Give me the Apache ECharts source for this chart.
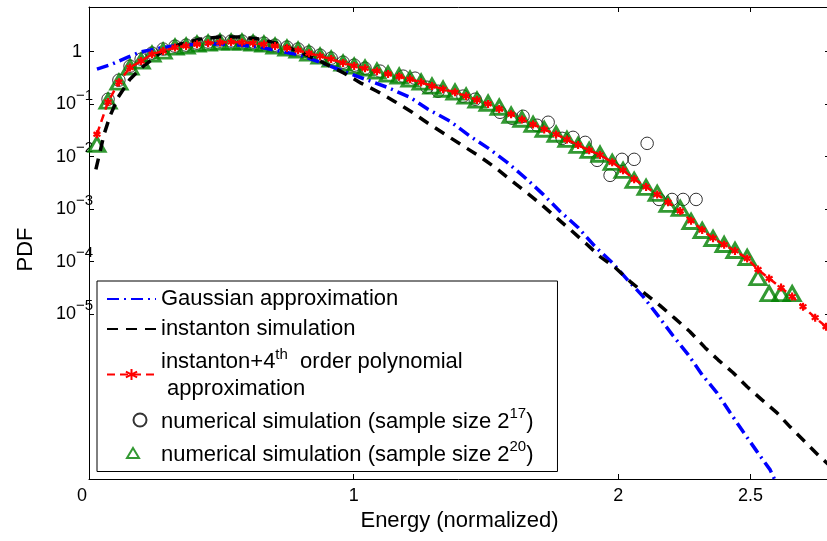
<!DOCTYPE html>
<html><head><meta charset="utf-8">
<script src="https://cdn.jsdelivr.net/npm/echarts@6/dist/echarts.min.js"></script>
<style>html,body{margin:0;padding:0;background:#fff}#c{width:827px;height:541px}</style>
</head><body><div id="c"></div>
<script>
// ---- data (PDF values) ----
const gaussX = [0.030,0.087,0.147,0.193,0.268,0.344,0.419,0.495,0.571,0.646,0.722,0.797,0.873,0.960,1.043,1.126,1.213,1.281,1.364,1.440,1.515,1.580,1.655,1.716,1.780,1.848,1.912,1.977,2.037,2.094,2.150,2.207,2.264,2.317,2.373,2.423,2.472,2.525,2.574,2.611];
const gaussY = [0.464,0.577,0.785,0.978,1.17,1.33,1.39,1.39,1.33,1.22,1.02,0.857,0.630,0.425,0.299,0.210,0.135,0.0800,0.0472,0.0244,0.0138,0.00778,0.00369,0.00191,9.04e-4,4.48e-4,1.94e-4,9.61e-5,4.36e-5,2.16e-5,9.35e-6,3.88e-6,1.69e-6,7.00e-7,3.18e-7,1.32e-7,5.73e-8,2.38e-8,1.08e-8,4.28e-9];

const instX = [0.026,0.042,0.057,0.079,0.110,0.155,0.197,0.268,0.344,0.419,0.495,0.571,0.646,0.722,0.797,0.873,0.964,1.028,1.088,1.153,1.221,1.281,1.345,1.410,1.470,1.534,1.595,1.648,1.705,1.761,1.818,1.882,1.931,1.988,2.045,2.101,2.158,2.215,2.271,2.328,2.377,2.434,2.487,2.543,2.600,2.649,2.706,2.755,2.800];
const instY = [0.00573,0.0126,0.0267,0.0587,0.135,0.299,0.484,0.936,1.39,1.73,1.89,1.89,1.73,1.39,0.978,0.659,0.389,0.251,0.176,0.114,0.0700,0.0432,0.0267,0.0164,0.0106,0.00625,0.00353,0.00218,0.00128,7.26e-4,4.10e-4,2.12e-4,1.25e-4,7.71e-5,4.17e-5,2.46e-5,1.45e-5,8.20e-6,4.63e-6,2.30e-6,1.35e-6,7.65e-7,4.13e-7,2.33e-7,1.32e-7,7.13e-8,3.69e-8,2.08e-8,1.29e-8];

const polyX = [0.030,0.072,0.113,0.155,0.197,0.238,0.280,0.325,0.367,0.408,0.450,0.495,0.537,0.578,0.620,0.661,0.703,0.748,0.790,0.831,0.873,0.915,0.960,1.002,1.043,1.088,1.130,1.172,1.213,1.255,1.296,1.338,1.383,1.425,1.466,1.508,1.550,1.595,1.636,1.678,1.720,1.765,1.806,1.848,1.890,1.931,1.977,2.018,2.060,2.105,2.147,2.188,2.234,2.275,2.317,2.358,2.400,2.441,2.487,2.528,2.570,2.615,2.657,2.698,2.744,2.785];
const polyY = [0.0267,0.110,0.262,0.50,0.66,0.89,1.03,1.20,1.28,1.38,1.45,1.50,1.52,1.50,1.45,1.38,1.28,1.17,1.06,0.93,0.82,0.72,0.61,0.535,0.48,0.425,0.375,0.335,0.297,0.260,0.222,0.193,0.168,0.142,0.120,0.101,0.0810,0.0640,0.0510,0.0410,0.0330,0.0265,0.0212,0.0166,0.0132,0.0108,0.00780,0.00550,0.00370,0.00265,0.00190,0.00135,9.2e-4,6.0e-4,4.0e-4,2.8e-4,2.1e-4,1.6e-4,1.15e-4,7.07e-5,4.76e-5,3.20e-5,2.16e-5,1.39e-5,8.57e-6,5.77e-6];

const sim17X = [0.072,0.113,0.155,0.197,0.238,0.280,0.325,0.367,0.408,0.450,0.495,0.537,0.578,0.620,0.661,0.703,0.748,0.790,0.831,0.873,0.915,0.960,1.002,1.043,1.100,1.187,1.232,1.277,1.319,1.413,1.459,1.553,1.599,1.640,1.693,1.735,1.788,1.829,1.875,1.920,1.969,2.014,2.060,2.109,2.154,2.203,2.245,2.294];
const sim17Y = [0.124,0.286,0.529,0.719,0.936,1.12,1.27,1.33,1.45,1.52,1.59,1.59,1.59,1.52,1.45,1.33,1.22,1.12,0.978,0.857,0.751,0.630,0.553,0.484,0.425,0.341,0.312,0.210,0.176,0.142,0.124,0.0700,0.0538,0.0587,0.0396,0.0452,0.0223,0.0233,0.0187,0.00850,0.00440,0.00888,0.00888,0.0179,0.00153,0.00153,0.00153,0.00153];

const sim20X = [0.030,0.072,0.113,0.155,0.197,0.238,0.280,0.325,0.367,0.408,0.450,0.495,0.537,0.578,0.620,0.661,0.703,0.748,0.790,0.831,0.873,0.915,0.960,1.002,1.043,1.088,1.130,1.172,1.213,1.255,1.296,1.338,1.383,1.425,1.466,1.508,1.550,1.595,1.636,1.678,1.720,1.765,1.806,1.848,1.890,1.931,1.977,2.018,2.060,2.105,2.147,2.188,2.234,2.275,2.317,2.358,2.400,2.441,2.487,2.528,2.570,2.615,2.657];
const sim20Y = [0.0172,0.114,0.262,0.506,0.659,0.896,1.02,1.22,1.27,1.39,1.45,1.52,1.52,1.52,1.45,1.39,1.27,1.17,1.07,0.936,0.820,0.719,0.603,0.529,0.484,0.425,0.372,0.341,0.299,0.262,0.220,0.192,0.169,0.142,0.119,0.104,0.0873,0.0614,0.0515,0.0413,0.0332,0.0267,0.0214,0.0164,0.0132,0.0111,0.00778,0.00548,0.00353,0.00259,0.00200,0.00123,0.00103,5.82e-4,3.92e-4,2.76e-4,2.12e-4,1.63e-4,1.20e-4,4.97e-5,2.46e-5,2.46e-5,2.46e-5];

const xTickLabels = [0, 1, 2, 2.5];
const yTickExponents = [0, -1, -2, -3, -4, -5];
const seriesNames = ['Gaussian approximation', 'instanton simulation', 'instanton+4th order polynomial approximation', 'numerical simulation (sample size 2^17)', 'numerical simulation (sample size 2^20)'];

// ---- build ----
const FONT = '"Liberation Sans", Arial, Helvetica, sans-serif';
const toLog = (xs, ys) => xs.map((x, i) => [x, Math.log10(ys[i])]);
const Y_MIN = -8.14, Y_MAX = 0.85;
const asterisk = 'path://M5,0L5,10M0.67,2.5L9.33,7.5M0.67,7.5L9.33,2.5';
const CLEAR = 'rgba(0,0,0,0)';
// legend icons spanning the whole 49x14 icon box so they are not stretched
const legendTriangle = 'path://M0,0L0,0M49,14L49,14M26,2L32,12L20,12Z';
const legendCircle = 'path://M0,0L0,0M49,14L49,14M39.5,7A6.5,6.5,0,1,1,26.5,7A6.5,6.5,0,1,1,39.5,7Z';

const legendText = {};
legendText[seriesNames[0]] = '{t|Gaussian approximation}';
legendText[seriesNames[1]] = '{t|instanton simulation}';
legendText[seriesNames[2]] = '{tb|instanton+4}{su|th}{tb|  order polynomial}\n{t2| approximation}';
legendText[seriesNames[3]] = '{tb|numerical simulation (sample size 2}{su|17}{tb|)}';
legendText[seriesNames[4]] = '{tb|numerical simulation (sample size 2}{su|20}{tb|)}';

const axisCommon = {
  type: 'value',
  axisLine: { show: true, onZero: false, lineStyle: { color: '#000', width: 1 } },
  splitLine: { show: false }
};

const chart = echarts.init(document.getElementById('c'), null, { renderer: 'canvas' });
chart.setOption({
  animation: false,
  backgroundColor: '#fff',
  textStyle: { fontFamily: FONT, color: '#000' },
  grid: { left: 89, right: -3, top: 7, bottom: 62, containLabel: false, outerBoundsMode: 'none' },
  xAxis: [
    Object.assign({}, axisCommon, {
      min: 0, max: 2.8, position: 'bottom',
      axisTick: { show: true, inside: true, length: 5, lineStyle: { color: '#000' }, customValues: xTickLabels },
      axisLabel: {
        customValues: xTickLabels, margin: 8, color: '#000', fontSize: 18, fontFamily: FONT,
        formatter: v => v === 0 ? '{z|0}' : '{n|' + v + '}',
        rich: { z: { fontSize: 18, fontFamily: FONT, padding: [0, 14, 0, 0] }, n: { fontSize: 18, fontFamily: FONT } }
      },
      name: 'Energy (normalized)', nameLocation: 'middle', nameGap: 30,
      nameTextStyle: { fontSize: 22, color: '#000', fontFamily: FONT }
    }),
    Object.assign({}, axisCommon, {
      min: 0, max: 2.8, position: 'top',
      axisTick: { show: true, inside: true, length: 5, lineStyle: { color: '#000' }, customValues: [1, 2, 2.5] },
      axisLabel: { show: false }
    })
  ],
  yAxis: [
    Object.assign({}, axisCommon, {
      min: Y_MIN, max: Y_MAX, position: 'left',
      axisTick: { show: true, inside: true, length: 5, lineStyle: { color: '#000' }, customValues: yTickExponents },
      axisLabel: {
        customValues: yTickExponents, margin: -4, color: '#000', fontFamily: FONT,
        formatter: v => v === 0 ? '{one|1}' : '{b|10}{s|\u2212' + (-v) + '}',
        rich: {
          one: { fontSize: 18, lineHeight: 32, fontFamily: FONT, padding: [0, 11, 0, 0] },
          b: { fontSize: 18, lineHeight: 32, fontFamily: FONT },
          s: { fontSize: 15, lineHeight: 15, fontFamily: FONT, verticalAlign: 'top' }
        }
      },
      name: 'PDF', nameLocation: 'middle', nameGap: 52,
      nameTextStyle: { fontSize: 22, color: '#000', fontFamily: FONT, padding: [0, 13, 0, 0] }
    }),
    Object.assign({}, axisCommon, {
      min: Y_MIN, max: Y_MAX, position: 'right',
      axisTick: { show: true, inside: true, length: 5, lineStyle: { color: '#000' }, customValues: yTickExponents },
      axisLabel: { show: false }
    })
  ],
  legend: {
    orient: 'vertical', left: 97, top: 281,
    padding: [4, 24, 3, 9], itemGap: 2, itemWidth: 49, itemHeight: 14,
    symbolKeepAspect: true,
    borderColor: '#000', borderWidth: 1, borderRadius: 0, backgroundColor: '#fff',
    selectedMode: false,
    data: [
      { name: seriesNames[0] },
      { name: seriesNames[1] },
      { name: seriesNames[2] },
      { name: seriesNames[3], icon: legendCircle },
      { name: seriesNames[4], icon: legendTriangle }
    ],
    formatter: n => legendText[n],
    textStyle: {
      color: '#000', fontFamily: FONT, fontSize: 22, lineHeight: 28,
      rich: {
        t: { fontSize: 22, lineHeight: 28, height: 28, fontFamily: FONT },
        tb: { fontSize: 22, lineHeight: 28, height: 28, fontFamily: FONT, padding: [3, 0, 0, 0] },
        su: { fontSize: 15, lineHeight: 16, height: 16, fontFamily: FONT, verticalAlign: 'top' },
        t2: { fontSize: 22, lineHeight: 28, height: 28, fontFamily: FONT }
      }
    }
  },
  series: [
    {
      name: seriesNames[0], type: 'line', data: toLog(gaussX, gaussY), symbol: 'none', silent: true,
      color: '#0000ff', itemStyle: { color: CLEAR, borderColor: CLEAR, borderWidth: 0 },
      lineStyle: { color: '#0000ff', width: 3.5, type: [12, 5, 2, 5] }, clip: true
    },
    {
      name: seriesNames[1], type: 'line', data: toLog(instX, instY), symbol: 'none', silent: true,
      color: '#000000', itemStyle: { color: CLEAR, borderColor: CLEAR, borderWidth: 0 },
      lineStyle: { color: '#000000', width: 3.5, type: [11, 8] }, clip: true
    },
    {
      name: seriesNames[2], type: 'line', data: toLog(polyX, polyY), symbol: asterisk, symbolSize: 8,
      symbolKeepAspect: true,
      showSymbol: true, showAllSymbol: true, silent: true, color: '#ff0000',
      itemStyle: { color: '#ff0000', borderColor: '#ff0000', borderWidth: 2.2 },
      lineStyle: { color: '#ff0000', width: 2.5, type: [8, 5] }, clip: true
    },
    {
      name: seriesNames[3], type: 'scatter', data: toLog(sim17X, sim17Y), symbol: 'circle', symbolSize: 12.5, silent: true,
      symbolKeepAspect: true,
      itemStyle: { color: CLEAR, borderColor: '#000', borderWidth: 1 }
    },
    {
      name: seriesNames[4], type: 'scatter', data: toLog(sim20X, sim20Y), symbol: 'triangle', symbolSize: [16, 14], silent: true,
      symbolKeepAspect: true,
      itemStyle: { color: CLEAR, borderColor: '#008000', borderWidth: 3 }
    }
  ]
});
</script>
</body></html>
